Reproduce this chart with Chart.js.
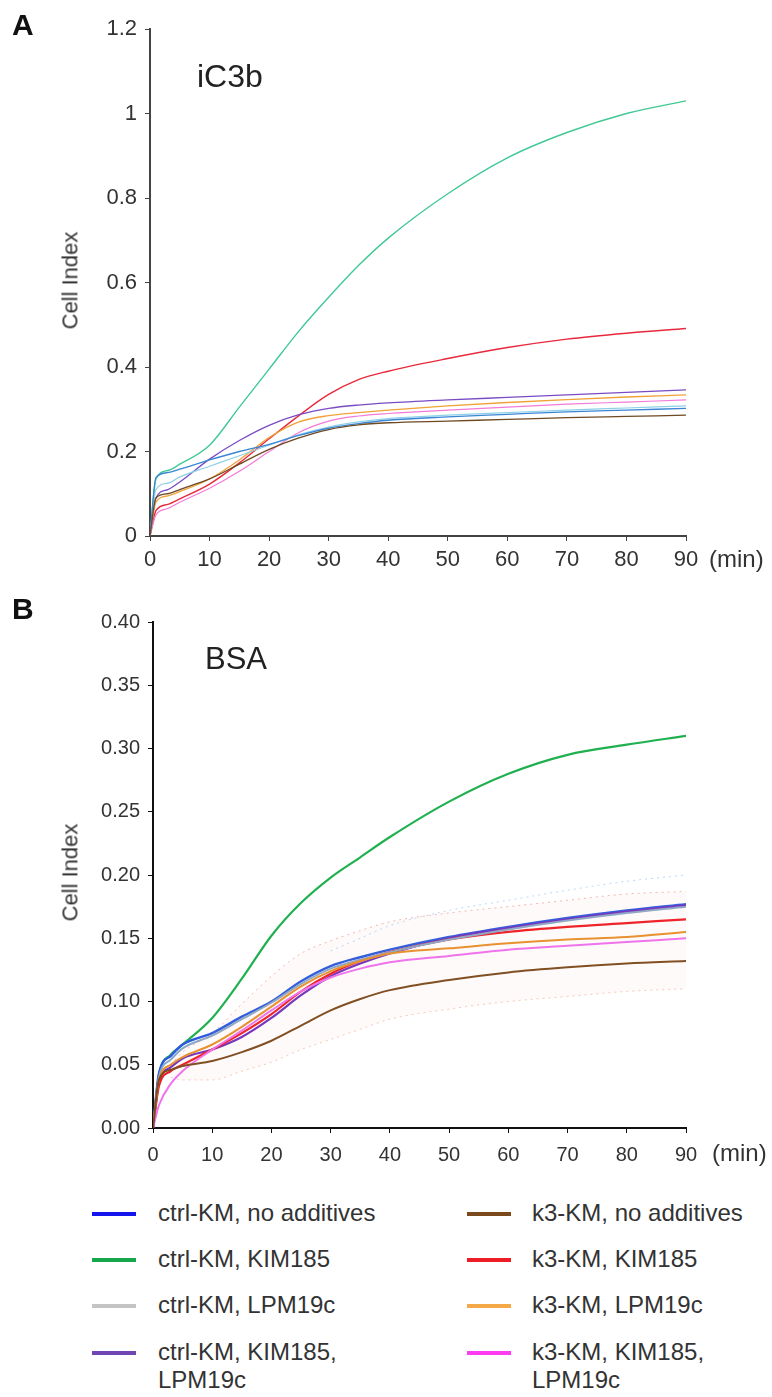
<!DOCTYPE html>
<html>
<head>
<meta charset="utf-8">
<script src="https://cdn.jsdelivr.net/npm/chart.js@4.4.1/dist/chart.umd.min.js"></script>
<style>
  body { margin: 0; background: #fff; font-family: "Liberation Sans", Arial, sans-serif; color: #222; }
  #page { position: relative; width: 772px; height: 1397px; overflow: hidden; }
  .box { position: absolute; left: 0; width: 772px; }
  .lbl { position: absolute; white-space: nowrap; }
  .panel { font-weight: bold; font-size: 30px; color: #111; }
  .tag { color: #222; }
  .ytitle { font-size: 22px; line-height: 25px; color: #333; transform: rotate(-90deg); transform-origin: center; }
  .unit { font-size: 24px; line-height: 28px; color: #333; }
  .leg { position: absolute; font-size: 24px; color: #333; line-height: 28px; }
  .sw { position: absolute; width: 44px; height: 4px; }
</style>
</head>
<body>
<div id="page">
  <div class="box" style="top:0;height:576px"><canvas id="chartA"></canvas></div>
  <div class="box" style="top:580px;height:590px"><canvas id="chartB"></canvas></div>

  <div class="lbl panel" style="left:12px;top:8px">A</div>
  <div class="lbl panel" style="left:12px;top:592px">B</div>
  <div class="lbl tag" style="left:197px;top:58px;font-size:32px">iC3b</div>
  <div class="lbl tag" style="left:205px;top:641px;font-size:31px">BSA</div>
  <div class="lbl ytitle" style="left:21px;top:268px">Cell Index</div>
  <div class="lbl ytitle" style="left:21px;top:860px">Cell Index</div>
  <div class="lbl unit" style="left:709px;top:545px">(min)</div>
  <div class="lbl unit" style="left:712px;top:1139px">(min)</div>

  <div id="legend"></div>
</div>

<script>
// --- iC3b (panel A) ---
const timeA = [0, 1, 3, 5, 10, 15, 20, 25, 30, 35, 40, 50, 60, 70, 80, 90];
const a_ctrlNone   = [0, 0.138, 0.150, 0.158, 0.180, 0.200, 0.217, 0.238, 0.255, 0.266, 0.274, 0.282, 0.288, 0.294, 0.298, 0.302];
const a_ctrlKim    = [0, 0.135, 0.155, 0.170, 0.215, 0.305, 0.395, 0.485, 0.565, 0.640, 0.705, 0.810, 0.895, 0.955, 1.000, 1.030];
const a_ctrlLpm    = [0, 0.110, 0.125, 0.140, 0.165, 0.190, 0.215, 0.240, 0.258, 0.270, 0.278, 0.286, 0.292, 0.298, 0.303, 0.308];
const a_ctrlKimLpm = [0, 0.090, 0.110, 0.128, 0.182, 0.226, 0.262, 0.287, 0.302, 0.310, 0.315, 0.322, 0.328, 0.334, 0.340, 0.346];
const a_k3None     = [0, 0.090, 0.100, 0.110, 0.135, 0.170, 0.205, 0.232, 0.252, 0.263, 0.268, 0.272, 0.276, 0.280, 0.283, 0.286];
const a_k3Kim      = [0, 0.060, 0.075, 0.088, 0.123, 0.173, 0.230, 0.285, 0.335, 0.370, 0.390, 0.420, 0.446, 0.466, 0.480, 0.491];
const a_k3Lpm      = [0, 0.080, 0.095, 0.105, 0.135, 0.180, 0.233, 0.270, 0.285, 0.292, 0.298, 0.308, 0.316, 0.323, 0.329, 0.334];
const a_k3KimLpm   = [0, 0.050, 0.065, 0.080, 0.113, 0.153, 0.200, 0.245, 0.272, 0.284, 0.290, 0.298, 0.305, 0.312, 0.317, 0.322];

// --- BSA (panel B) ---
const timeB = [0, 1, 3, 5, 10, 15, 20, 25, 30, 35, 40, 50, 60, 70, 80, 90];
const b_ctrlNone   = [0, 0.043, 0.057, 0.066, 0.075, 0.088, 0.100, 0.116, 0.128, 0.135, 0.141, 0.151, 0.159, 0.166, 0.172, 0.177];
const b_ctrlKim    = [0, 0.042, 0.058, 0.066, 0.087, 0.118, 0.152, 0.178, 0.198, 0.214, 0.230, 0.258, 0.280, 0.295, 0.303, 0.310];
const b_ctrlLpm    = [0, 0.040, 0.054, 0.063, 0.073, 0.086, 0.099, 0.114, 0.126, 0.133, 0.139, 0.149, 0.157, 0.164, 0.170, 0.175];
const b_ctrlKimLpm = [0, 0.036, 0.048, 0.055, 0.062, 0.072, 0.087, 0.105, 0.120, 0.130, 0.138, 0.150, 0.158, 0.165, 0.171, 0.176];
const b_k3None     = [0, 0.038, 0.046, 0.049, 0.053, 0.060, 0.069, 0.081, 0.093, 0.102, 0.109, 0.117, 0.123, 0.127, 0.130, 0.132];
const b_k3Kim      = [0, 0.033, 0.045, 0.050, 0.062, 0.075, 0.090, 0.108, 0.122, 0.132, 0.139, 0.149, 0.155, 0.159, 0.162, 0.165];
const b_k3Lpm      = [0, 0.038, 0.050, 0.056, 0.066, 0.080, 0.096, 0.112, 0.124, 0.132, 0.138, 0.142, 0.146, 0.149, 0.151, 0.155];
const b_k3KimLpm   = [0, 0.018, 0.035, 0.045, 0.062, 0.077, 0.093, 0.108, 0.119, 0.126, 0.131, 0.136, 0.141, 0.144, 0.147, 0.150];
// faint SD envelopes
const b_sdUpperRed  = [null, null, 0.050, 0.060, 0.075, 0.098, 0.120, 0.138, 0.148, 0.156, 0.163, 0.170, 0.175, 0.180, 0.185, 0.187];
const b_sdLowerRed  = [null, null, 0.040, 0.038, 0.038, 0.045, 0.052, 0.062, 0.070, 0.078, 0.086, 0.094, 0.100, 0.104, 0.108, 0.110];
const b_sdUpperBlue = [null, null, null, null, null, null, null, null, 0.140, 0.150, 0.160, 0.172, 0.180, 0.188, 0.195, 0.200];

const legendNames = [
  "ctrl-KM, no additives", "ctrl-KM, KIM185", "ctrl-KM, LPM19c", "ctrl-KM, KIM185,<br>LPM19c",
  "k3-KM, no additives", "k3-KM, KIM185", "k3-KM, LPM19c", "k3-KM, KIM185,<br>LPM19c"
];
const legendColors = ["#1414ee", "#16a64c", "#c4c4c4", "#7045b4", "#7a4a1c", "#ee1c24", "#f4a848", "#ff3cf4"];

function pts(xs, ys) {
  return xs.map((x, i) => ({ x: x, y: ys[i] }));
}

function line(xs, ys, color, width, dash, fill) {
  return {
    data: pts(xs, ys),
    borderColor: color,
    borderWidth: width,
    borderDash: dash || [],
    pointRadius: 0,
    fill: fill || false,
    backgroundColor: "rgba(245,170,150,0.06)",
    cubicInterpolationMode: "monotone",
    spanGaps: false
  };
}

function options(yMax, yStep, yDigits, leftW, axisColor, top, fontSize, xPad, xH) {
  const tickFont = { family: "'Liberation Sans', Arial, sans-serif", size: fontSize };
  return {
    responsive: true,
    maintainAspectRatio: false,
    animation: false,
    layout: { padding: { top: top, right: 86, bottom: 0, left: 0 } },
    plugins: { legend: { display: false }, tooltip: { enabled: false } },
    scales: {
      x: {
        type: "linear", min: 0, max: 90,
        border: { color: axisColor, width: 2 },
        grid: { drawOnChartArea: false, tickLength: 5, color: axisColor },
        ticks: { stepSize: 10, font: tickFont, color: "#333", padding: xPad, maxRotation: 0 },
        afterFit: s => { s.height = xH; }
      },
      y: {
        min: 0, max: yMax,
        border: { color: axisColor, width: 2 },
        grid: { drawOnChartArea: false, tickLength: 5, color: axisColor },
        ticks: {
          stepSize: yStep, font: tickFont, color: "#333", padding: 8,
          callback: v => yDigits ? v.toFixed(yDigits) : String(+v.toFixed(1))
        },
        afterFit: s => { s.width = leftW; }
      }
    }
  };
}

new Chart(document.getElementById("chartA"), {
  type: "line",
  data: {
    datasets: [
      line(timeA, a_k3None, "#6e4a22", 1.3),
      line(timeA, a_ctrlNone, "#3a86d4", 1.3),
      line(timeA, a_ctrlLpm, "#8fd0e6", 1.2),
      line(timeA, a_k3KimLpm, "#f27ad8", 1.2),
      line(timeA, a_k3Lpm, "#f0a238", 1.3),
      line(timeA, a_ctrlKimLpm, "#7a4cc4", 1.3),
      line(timeA, a_k3Kim, "#e8283c", 1.4),
      line(timeA, a_ctrlKim, "#40c994", 1.4)
    ]
  },
  options: options(1.2, 0.2, 0, 150, "#444", 29, 22, 6, 40)
});

new Chart(document.getElementById("chartB"), {
  type: "line",
  data: {
    datasets: [
      line(timeB, b_sdUpperBlue, "rgba(140,190,240,0.6)", 1, [2, 4]),
      line(timeB, b_sdUpperRed, "rgba(240,120,110,0.55)", 1, [2, 4], "+1"),
      line(timeB, b_sdLowerRed, "rgba(240,150,110,0.5)", 1, [2, 4]),
      line(timeB, b_k3None, "#7a4a1c", 2),
      line(timeB, b_k3KimLpm, "#f070f0", 2),
      line(timeB, b_k3Lpm, "#e8902a", 2),
      line(timeB, b_ctrlLpm, "#8aa8c8", 2),
      line(timeB, b_k3Kim, "#ee1c24", 2.2),
      line(timeB, b_ctrlKimLpm, "#7030c0", 2.2),
      line(timeB, b_ctrlNone, "#2a5ae0", 2.4),
      line(timeB, b_ctrlKim, "#20b050", 2.2)
    ]
  },
  options: options(0.4, 0.05, 2, 153, "#111", 42, 20, 10, 42)
});

// HTML legend, two columns
const legend = document.getElementById("legend");
const rowsY = [1199, 1245, 1291, 1338];
legendNames.forEach((name, i) => {
  const col = Math.floor(i / 4), row = i % 4;
  const sx = col === 0 ? 92 : 467;
  const tx = col === 0 ? 158 : 532;
  const sw = document.createElement("div");
  sw.className = "sw";
  sw.style.left = sx + "px";
  sw.style.top = (rowsY[row] + 13) + "px";
  sw.style.background = legendColors[i];
  legend.appendChild(sw);
  const t = document.createElement("div");
  t.className = "leg";
  t.style.left = tx + "px";
  t.style.top = rowsY[row] + "px";
  t.innerHTML = name;
  legend.appendChild(t);
});
</script>
</body>
</html>
